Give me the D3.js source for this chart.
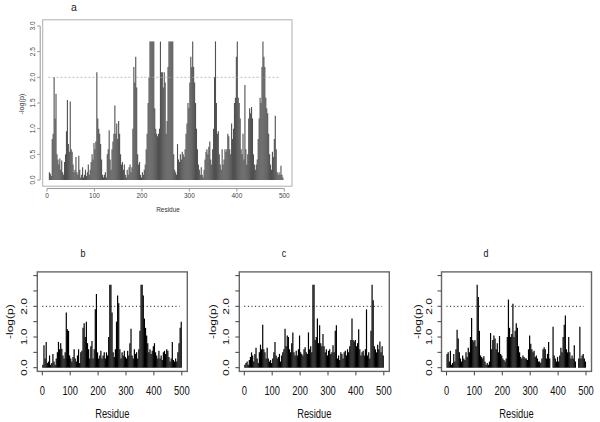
<!DOCTYPE html>
<html><head><meta charset="utf-8">
<script src="https://cdn.jsdelivr.net/npm/d3@7"></script>
<style>body{margin:0;background:#fff}svg{display:block}text{font-family:"Liberation Sans",Arial,sans-serif}</style>
</head><body>
<script>
// ---------- data ----------
const xTicks = [0, 100, 200, 300, 400, 500];
const yTicks = [0, 0.5, 1, 1.5, 2, 2.5, 3];
const yLabelTicksSmall = [0, 1, 2];
const threshold = 2.0;
const panelTitles = ["a", "b", "c", "d"];
const xTitle = "Residue";
const yTitle = "-log(p)";

// panel a: residues 1,3,5,...,499
const startA = 1, stepA = 2;
const valuesA = [
 0,0,0.15,0.12,0.08,0.8,0.9,2.0,1.2,1.68,
 0.5,0.4,0.3,0.42,0.2,0.38,0.15,0.1,0.35,0.5,
 0.95,1.56,0.7,0.55,1.53,0.6,0.55,0.3,0.15,0.2,
 0.45,0.15,0.1,0.47,0.2,0.05,0.1,0.25,0.05,0.1,
 0.2,0.08,0.15,0.3,0.1,0.2,0.35,0.5,0.4,0.72,
 0.6,0.75,2.1,1.2,1.0,0.9,0.7,0.4,0.1,0.05,
 0.1,0.15,0.05,0.5,0.6,0.97,0.4,0.2,0.6,0.75,
 0.9,1.45,0.9,1.1,0.8,1.15,0.9,0.5,0.3,0.35,
 0.2,0.3,0.1,0.05,0.2,0.1,0.25,0.3,0.15,0.25,
 1.0,2.2,1.9,2.4,1.8,0.5,0.3,0.35,0.1,0.05,
 0.15,0.1,0.2,0.3,0.6,0.9,1.5,2.0,2.7,2.7,
 2.7,2.7,2.7,1.4,1.0,0.9,0.85,0.9,1.0,2.7,
 2.1,2.1,1.8,2.1,1.9,0.9,1.15,2.2,2.7,2.7,
 2.7,2.7,2.7,0.5,0.2,0.15,0.1,0.7,0.4,0.35,
 0.5,0.4,0.55,0.5,0.45,0.6,0.9,1.1,1.5,1.4,
 1.9,2.4,2.2,2.7,2.2,1.9,1.5,1.0,0.6,0.3,
 0.2,0.1,0.25,0.1,0.05,0.2,0.4,0.55,0.6,0.5,
 0.65,0.75,0.4,0.3,0.6,1.0,2.0,2.7,1.5,0.9,
 0.95,0.5,0.3,0.2,0.6,0.3,0.4,0.6,0.55,0.6,
 0.9,0.85,0.6,0.5,1.1,0.8,1.0,1.5,1.6,2.4,
 2.7,1.6,1.5,1.2,0.6,0.5,0.9,0.4,1.85,0.6,
 0.3,0.5,1.2,1.4,1.3,1.42,1.2,0.5,0.3,0.2,
 0.3,0.4,0.8,1.2,1.6,1.5,2.2,2.7,2.4,2.2,
 1.6,1.4,1.3,0.9,0.5,0.3,0.2,0.55,0.45,0.8,
 1.25,0.6,0.15,0.1,0.15,0.1,0.28,0.1,0.05,0
];

// panels b, c, d: residues 2,6,10,...,498
const startS = 2, stepS = 4;
const valuesB = [
 0.1,0.73,0.3,0.84,0.15,0.2,0.4,0.1,0.15,0.45,
 0.2,0.1,0.3,0.5,0.84,0.6,0.8,0.62,0.4,0.3,
 0.5,1.8,1.25,1.2,0.4,0.3,0.2,0.35,0.6,0.3,
 0.2,0.4,0.6,0.15,0.5,0.55,1.3,1.45,1.0,1.5,
 0.8,0.6,0.3,0.7,0.87,0.3,0.6,1.9,2.4,0.5,
 0.3,0.4,0.55,0.3,0.4,0.5,0.3,0.5,0.4,1.0,
 2.7,2.7,1.8,0.5,0.35,0.6,1.5,2.35,2.1,0.6,
 0.3,0.5,0.4,0.55,0.35,0.3,0.55,0.4,0.8,1.27,
 0.4,0.3,0.6,0.45,0.5,0.3,0.6,1.2,2.7,2.7,
 2.35,1.6,1.3,1.05,0.8,0.5,0.6,0.45,0.55,0.7,
 0.8,0.5,0.4,0.3,0.55,0.3,0.4,0.25,0.5,0.55,
 0.45,0.6,0.55,0.35,0.2,0.3,0.84,0.25,0.2,0.3,
 0.2,0.5,0.8,1.3,1.5
];
const valuesC = [
 0.1,0.15,0.2,0.1,0.25,0.35,0.5,0.4,0.2,0.45,
 0.65,0.3,0.15,0.5,0.75,0.6,1.4,0.6,0.5,0.3,
 0.65,0.3,0.2,0.25,0.15,0.3,0.5,0.84,0.4,0.3,
 0.35,0.45,0.2,0.4,0.5,0.6,1.27,0.7,1.05,1.0,
 0.6,0.5,0.8,1.15,0.5,0.4,0.55,0.4,0.6,1.05,
 0.5,0.45,0.4,0.6,0.67,0.5,0.45,1.15,0.6,0.7,
 0.5,2.7,2.7,0.9,1.0,1.6,0.8,1.38,0.8,0.7,
 1.1,0.7,0.5,0.6,0.4,0.55,0.6,0.45,0.5,0.73,
 0.5,1.2,1.38,0.3,0.4,0.25,0.5,0.45,0.3,0.5,
 0.55,0.4,0.6,0.5,0.7,0.9,1.6,0.9,0.85,0.9,
 0.7,0.8,1.25,0.6,0.4,0.5,0.55,0.4,0.6,1.9,
 0.4,0.5,0.3,1.2,2.7,2.2,0.7,0.6,0.5,0.75,
 0.6,0.85,0.5,0.7,0.4
];
const valuesD = [
 0.45,0.5,0.2,0.55,0.1,0.15,0.45,0.2,0.6,1.24,
 0.95,0.5,0.3,0.2,0.4,0.3,0.25,0.5,0.35,0.65,
 0.5,1.0,1.62,0.9,0.85,0.9,0.7,2.7,2.3,1.2,
 0.4,0.35,0.3,0.37,0.2,0.1,0.15,0.1,0.2,1.13,
 0.6,0.9,1.05,0.95,0.6,0.8,0.5,1.03,0.45,0.4,
 0.3,0.25,0.2,0.3,1.0,2.22,1.3,1.0,1.1,2.08,
 1.0,1.2,1.45,1.3,0.7,0.5,0.35,0.3,0.4,0.35,
 0.3,0.3,0.25,0.6,1.05,0.78,0.6,0.5,0.55,0.35,
 0.4,0.3,0.2,0.2,0.15,0.3,0.6,0.67,0.6,0.3,
 0.45,0.84,0.3,0,0,1.33,0.4,0.3,0.2,0.35,
 0.2,0.4,0.65,0.5,1.0,1.4,1.7,0.6,0.5,1.0,
 0.5,0.3,0.4,0.3,0.73,0.2,0,0,0.3,1.33,
 0.3,0.4,0.45,0.3,0.2
];

// ---------- drawing ----------
const W = 600, H = 422;
const svg = d3.select("body").append("svg").attr("width", W).attr("height", H);

function label(g, x, y, s, size, opts) {
  opts = opts || {};
  const sx = opts.sx || 1;
  const rot = opts.rot || 0;
  g.append("text")
    .attr("transform", `translate(${x},${y}) scale(${sx},1) rotate(${rot})`)
    .attr("text-anchor", opts.anchor || "middle")
    .attr("font-size", size)
    .attr("fill", opts.fill || "#000")
    .text(s);
}

// Panel a
(function () {
  const g = svg.append("g");
  const box = {l: 42.7, r: 292, t: 19.8, b: 186.2};
  const x = d3.scaleLinear().domain([0, 500]).range([47, 284.3]);
  const y = d3.scaleLinear().domain([0, 3]).range([180, 26]);
  g.append("rect").attr("x", box.l).attr("y", box.t).attr("width", box.r - box.l).attr("height", box.b - box.t)
    .attr("fill", "none").attr("stroke", "#b0b0b0").attr("stroke-width", 1);
  g.selectAll("line.bar").data(valuesA).join("line").attr("class", "bar")
    .attr("x1", (d, i) => x(startA + i * stepA)).attr("x2", (d, i) => x(startA + i * stepA))
    .attr("y1", y(0)).attr("y2", d => y(d))
    .attr("stroke", "#505050").attr("stroke-width", 1.1);
  g.append("line").attr("x1", x(3)).attr("x2", x(491)).attr("y1", y(threshold)).attr("y2", y(threshold))
    .attr("stroke", "#aaa").attr("stroke-width", 0.8).attr("stroke-dasharray", "2,2");
  // x axis
  const ax = 188.5;
  g.append("line").attr("x1", x(0)).attr("x2", x(500)).attr("y1", ax).attr("y2", ax).attr("stroke", "#999");
  xTicks.forEach(t => {
    g.append("line").attr("x1", x(t)).attr("x2", x(t)).attr("y1", ax).attr("y2", ax + 3).attr("stroke", "#999");
    label(g, x(t), 197.5, String(t), 6.5, {fill: "#444"});
  });
  // y axis
  const ay = 40.2;
  g.append("line").attr("x1", ay).attr("x2", ay).attr("y1", y(0)).attr("y2", y(3)).attr("stroke", "#999");
  yTicks.forEach(t => {
    g.append("line").attr("x1", ay - 3).attr("x2", ay).attr("y1", y(t)).attr("y2", y(t)).attr("stroke", "#999");
    label(g, 35, y(t), t.toFixed(1), 6.5, {rot: -90, fill: "#444"});
  });
  label(g, 168, 211.5, xTitle, 7.2, {sx: 0.9, fill: "#333"});
  label(g, 23.5, 104, yTitle, 7.2, {rot: -90, fill: "#333"});
  label(g, 74, 11, panelTitles[0], 10.5, {fill: "#222"});
})();

// Panels b, c, d
function smallPanel(L, values, title, titleX, yTitleOff) {
  const g = svg.append("g");
  const box = {l: L, r: L + 150, t: 271.9, b: 371.4};
  const x = d3.scaleLinear().domain([0, 500]).range([L + 5, L + 144.5]);
  const y = d3.scaleLinear().domain([0, 3]).range([367.7, 275.6]);
  g.selectAll("line.bar").data(values).join("line").attr("class", "bar")
    .attr("x1", (d, i) => x(startS + i * stepS)).attr("x2", (d, i) => x(startS + i * stepS))
    .attr("y1", y(0)).attr("y2", d => y(d))
    .attr("stroke", "#000").attr("stroke-width", 1.2);
  g.append("line").attr("x1", x(0)).attr("x2", x(492)).attr("y1", y(threshold)).attr("y2", y(threshold))
    .attr("stroke", "#000").attr("stroke-width", 1).attr("stroke-dasharray", "1,2.6");
  g.append("rect").attr("x", box.l).attr("y", box.t).attr("width", box.r - box.l).attr("height", box.b - box.t)
    .attr("fill", "none").attr("stroke", "#666").attr("stroke-width", 1.4);
  // x axis ticks
  xTicks.forEach(t => {
    g.append("line").attr("x1", x(t)).attr("x2", x(t)).attr("y1", box.b).attr("y2", box.b + 4).attr("stroke", "#444");
    label(g, x(t), 395, String(t), 12, {sx: 0.78, fill: "#111"});
  });
  yTicks.forEach(t => {
    g.append("line").attr("x1", box.l - 4).attr("x2", box.l).attr("y1", y(t)).attr("y2", y(t)).attr("stroke", "#444");
  });
  yLabelTicksSmall.forEach(t => {
    label(g, L - 10, y(t), t.toFixed(1), 12, {rot: -90, sx: 0.78, fill: "#111"});
  });
  label(g, L + 75, 417.5, xTitle, 12, {sx: 0.78, fill: "#111"});
  label(g, L - yTitleOff, 321.7, yTitle, 12, {rot: -90, sx: 0.78, fill: "#111"});
  label(g, titleX, 257, title, 10.5, {sx: 0.85, fill: "#111"});
}
smallPanel(37.3, valuesB, panelTitles[1], 83, 24);
smallPanel(239.3, valuesC, panelTitles[2], 284, 23);
smallPanel(441.5, valuesD, panelTitles[3], 486, 21);
</script>
</body></html>
